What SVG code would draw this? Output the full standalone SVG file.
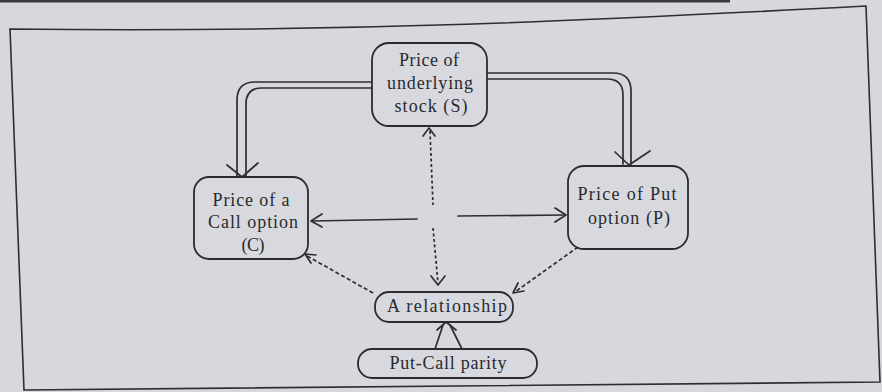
<svg xmlns="http://www.w3.org/2000/svg" width="882" height="392" viewBox="0 0 882 392">
  <style>
    .bg { fill: #d6d8dd; }
    .edge { fill: none; stroke: #2e2e32; stroke-width: 1.6; }
    .box { fill: #d7d9de; stroke: #2b2b2f; stroke-width: 1.8; }
    .lbl { font-family: "Liberation Serif", "Times New Roman", serif; font-size: 18px; fill: #2a2a2e; text-anchor: middle; }
    .ln { fill: none; stroke: #2e2e32; stroke-width: 1.7; stroke-linecap: round; stroke-linejoin: round; }
    .dot { fill: none; stroke: #2e2e32; stroke-width: 1.7; stroke-dasharray: 3 2.5; }
    .dash { fill: none; stroke: #2e2e32; stroke-width: 1.7; stroke-dasharray: 4 2.5; }
  </style>

  <!-- paper -->
  <rect class="bg" x="0" y="0" width="882" height="392"/>
  <path d="M0,1 H730" stroke="#3a3a3e" stroke-width="3" fill="none"/>
  <!-- outer frame -->
  <path class="edge" d="M10,29 C350,33 600,20 866,6 L880,382 L24,390 Z"/>

  <!-- connectors -->
  <g id="connectors">
    <!-- S to C (double line) -->
    <path class="ln" d="M372,82 H255 Q237,82 237,100 V176"/>
    <path class="ln" d="M372,88 H262 Q246,88 246,104 V176"/>
    <path class="ln" d="M227,165 L242,177 L258,163"/>
    <!-- S to P (double line) -->
    <path class="ln" d="M487,73 H613 Q631,73 631,91 V164"/>
    <path class="ln" d="M487,79 H607 Q623,79 623,95 V164"/>
    <path class="ln" d="M615,152 L629,165 L650,151"/>
    <!-- centre to C and P -->
    <path class="ln" d="M417,219 L312,221"/>
    <path class="ln" d="M322,214 L311,221 L322,227"/>
    <path class="ln" d="M458,216 L565,215"/>
    <path class="ln" d="M555,208 L566,215 L555,222"/>
    <!-- dotted vertical: up to S, down to relationship -->
    <path class="dot" d="M430,131 L433,205"/>
    <path class="ln" d="M423,136 L429,128 L435,136"/>
    <path class="dot" d="M433,228 L438,283"/>
    <path class="ln" d="M431,276 L438,285 L445,276"/>
    <!-- relationship to C (dashed) -->
    <path class="dash" d="M373,293 L307,256"/>
    <path class="ln" d="M316,255 L305,254 L311,263"/>
    <!-- P to relationship (dashed) -->
    <path class="dash" d="M578,247 L515,292"/>
    <path class="ln" d="M518,283 L513,293 L524,291"/>
    <!-- parity to relationship -->
    <path class="ln" d="M435,349 L443,325"/>
    <path class="ln" d="M462,349 L450,325"/>
    <path class="ln" d="M437,330 L446,322 L456,330"/>
  </g>

  <g id="stock">
    <rect class="box" x="372" y="43" width="115" height="83" rx="17"/>
    <text class="lbl" x="429" y="66" textLength="60">Price of</text>
    <text class="lbl" x="430" y="89" textLength="86">underlying</text>
    <text class="lbl" x="431" y="112" textLength="73">stock (S)</text>
  </g>

  <g id="call">
    <rect class="box" x="194" y="177" width="114" height="82" rx="15"/>
    <text class="lbl" x="251" y="206" textLength="77">Price of a</text>
    <text class="lbl" x="253" y="228" textLength="90">Call option</text>
    <text class="lbl" x="253" y="251" textLength="23">(C)</text>
  </g>

  <g id="put">
    <rect class="box" x="568" y="166" width="120" height="83" rx="16"/>
    <text class="lbl" x="627" y="200" textLength="99">Price of Put</text>
    <text class="lbl" x="629" y="224" textLength="82">option (P)</text>
  </g>

  <g id="relationship">
    <rect class="box" x="375" y="292" width="138" height="30" rx="14"/>
    <text class="lbl" x="447" y="312" textLength="120">A relationship</text>
  </g>

  <g id="parity">
    <rect class="box" x="358" y="349" width="179" height="29" rx="14"/>
    <text class="lbl" x="448" y="369" textLength="117">Put-Call parity</text>
  </g>
</svg>
